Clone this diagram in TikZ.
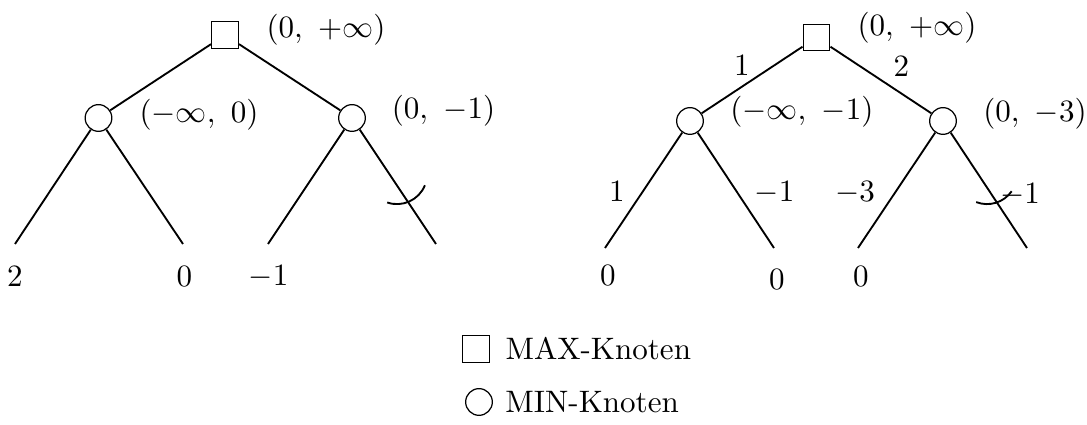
\documentclass[tikz,border=0pt]{standalone}
\usetikzlibrary{positioning}
\tikzset{
    maxnode/.style={rectangle,draw=black,minimum size=8.6pt,inner sep=0pt},
    minnode/.style={circle,draw=black,minimum size=8.6pt,inner sep=0pt},
    branch/.style={semithick},
    cutmark/.style={semithick},
    lbl/.style={inner sep=0pt}
}

\begin{document}
\begin{tikzpicture}[x=0.011325cm,y=-0.011325cm]
    \useasboundingbox (0,0) rectangle (1087,425);

    \node[maxnode] (maxL)  at (225,35)    {};
    \node[minnode] (minLL) at (98.5,118)  {};
    \node[minnode] (minLR) at (352,118)   {};
    \coordinate (leafL1) at (15,244);
    \coordinate (leafL2) at (183,244);
    \coordinate (leafL3) at (268,244);
    \coordinate (leafL4) at (436,244);

    \draw[branch] (maxL) -- (minLL);
    \draw[branch] (maxL) -- (minLR);
    \draw[branch] (minLL) -- (leafL1);
    \draw[branch] (minLL) -- (leafL2);
    \draw[branch] (minLR) -- (leafL3);
    \draw[branch] (minLR) -- (leafL4);

    \coordinate (cutL) at (397,174);
    \draw[cutmark] (cutL) ++(-109:9.7pt) arc[start angle=-109,end angle=-22,radius=9.7pt];

    \node[lbl] (valMaxL)  at (326,29.5)  {$(0,\ +\infty)$};
    \node[lbl] (valMinLL) at (199,114.5) {$(-\infty,\ 0)$};
    \node[lbl] (valMinLR) at (443.5,111) {$(0,\ -1)$};
    \node[lbl] (numL1) at (15,277)    {$2$};
    \node[lbl] (numL2) at (184.5,277) {$0$};
    \node[lbl] (numL3) at (268.5,277) {$-1$};

    \node[maxnode] (maxR)  at (816.5,37.5) {};
    \node[minnode] (minRL) at (690,121)    {};
    \node[minnode] (minRR) at (943,121)    {};
    \coordinate (leafR1) at (605,248);
    \coordinate (leafR2) at (774,248);
    \coordinate (leafR3) at (858,248);
    \coordinate (leafR4) at (1027,248);

    \draw[branch] (maxR) -- (minRL);
    \draw[branch] (maxR) -- (minRR);
    \draw[branch] (minRL) -- (leafR1);
    \draw[branch] (minRL) -- (leafR2);
    \draw[branch] (minRR) -- (leafR3);
    \draw[branch] (minRR) -- (leafR4);

    \coordinate (cutR) at (987,174);
    \draw[cutmark] (cutR) ++(-111:9.7pt) arc[start angle=-111,end angle=-35,radius=9.7pt];

    \node[lbl] (valMaxR)  at (917,28)     {$(0,\ +\infty)$};
    \node[lbl] (valMinRL) at (802,112)    {$(-\infty,\ -1)$};
    \node[lbl] (valMinRR) at (1035,113.5) {$(0,\ -3)$};
    \node[lbl] (wR1) at (742,66)    {$1$};
    \node[lbl] (wR2) at (901.5,67)  {$2$};
    \node[lbl] (wR3) at (617,192)   {$1$};
    \node[lbl] (wR4) at (774.5,193) {$-1$};
    \node[lbl] (wR5) at (855,193)   {$-3$};
    \node[lbl] (wR6) at (1020,195)  {$-1$};
    \node[lbl] (numR1) at (608,276) {$0$};
    \node[lbl] (numR2) at (777,280) {$0$};
    \node[lbl] (numR3) at (861,277) {$0$};

    \node[maxnode] (legMax) at (476,349) {};
    \node[right=1.5pt of legMax] (legMaxTxt) {MAX-Knoten};
    \node[minnode] (legMin) at (479,402) {};
    \node[right=0.5pt of legMin] (legMinTxt) {MIN-Knoten};
\end{tikzpicture}
\end{document}
